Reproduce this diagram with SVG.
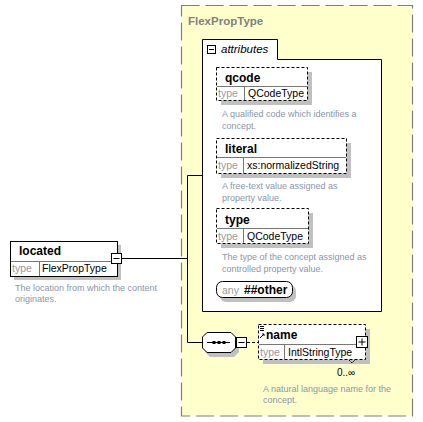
<svg xmlns="http://www.w3.org/2000/svg" width="423" height="422" viewBox="0 0 423 422">
<style>
.t{font-family:"Liberation Sans",Arial,sans-serif}
.h{font-size:12px;font-weight:bold;fill:#000}
.v{font-size:10.5px;fill:#000}
.lbl{font-size:10.5px;fill:#999}
.d{font-size:9px;fill:#8a96a8}
.box{fill:#fff;stroke:#000;stroke-width:1}
.dash{fill:#fff;stroke:#000;stroke-width:1;stroke-dasharray:3,2}
.sh{fill:#c0c0c0}
.div{stroke:#777;stroke-width:1;fill:none}
.ln{stroke:#000;stroke-width:1;fill:none}
</style>
<rect width="423" height="422" fill="#fff"/>
<g id="FlexPropType">
<rect x="181.5" y="5.5" width="231" height="410.5" fill="#ffffcc" stroke="#808080" stroke-width="1.2" stroke-dasharray="18,6"/>
<text class="t" x="188" y="25" font-size="11.5" font-weight="bold" fill="#808080">FlexPropType</text>
</g>
<g id="attributes">
<path d="M202.5,311.5 V39.5 H277.5 V59.5 H381.5 V311.5 Z" fill="#fff" stroke="#000" stroke-width="1"/>
<rect x="207.5" y="45.5" width="8" height="8" class="box"/>
<line x1="209" y1="49.5" x2="214" y2="49.5" class="ln"/>
<text class="t" x="221" y="53" font-size="11.5" font-style="italic">attributes</text>
</g>
<g id="qcode">
<rect x="221" y="72" width="91" height="33" class="sh"/>
<rect x="216.5" y="67.5" width="91" height="33" class="dash"/>
<line x1="217" y1="86.5" x2="307" y2="86.5" class="div"/>
<line x1="244.5" y1="87" x2="244.5" y2="100" class="div"/>
<text class="t h" x="225" y="82">qcode</text>
<text class="t lbl" x="218" y="97">type</text>
<text class="t v" x="248" y="97">QCodeType</text>
<text class="t d" x="222" y="117">A qualified code which identifies a</text>
<text class="t d" x="222" y="129">concept.</text>
</g>
<g id="literal">
<rect x="221" y="143" width="130" height="35" class="sh"/>
<rect x="216.5" y="138.5" width="130" height="35" class="dash"/>
<line x1="217" y1="157.5" x2="346" y2="157.5" class="div"/>
<line x1="243.5" y1="158" x2="243.5" y2="173" class="div"/>
<text class="t h" x="225" y="153">literal</text>
<text class="t lbl" x="218" y="169">type</text>
<text class="t v" x="247" y="169">xs:normalizedString</text>
<text class="t d" x="222" y="189">A free-text value assigned as</text>
<text class="t d" x="222" y="201">property value.</text>
</g>
<g id="type">
<rect x="221" y="213" width="92" height="35" class="sh"/>
<rect x="216.5" y="208.5" width="92" height="35" class="dash"/>
<line x1="217" y1="228.5" x2="308" y2="228.5" class="div"/>
<line x1="243.5" y1="229" x2="243.5" y2="243" class="div"/>
<text class="t h" x="225" y="224">type</text>
<text class="t lbl" x="218" y="240">type</text>
<text class="t v" x="247" y="240">QCodeType</text>
<text class="t d" x="222" y="260">The type of the concept assigned as</text>
<text class="t d" x="222" y="272">controlled property value.</text>
</g>
<g id="any">
<rect x="220" y="285" width="76" height="17" rx="6" class="sh"/>
<rect x="216.5" y="281.5" width="76" height="16" rx="6" class="box"/>
<text class="t lbl" x="222" y="294" font-size="11">any</text>
<text class="t h" x="244" y="294">##other</text>
</g>
<g id="located">
<rect x="14" y="245" width="107" height="35" class="sh"/>
<rect x="10.5" y="241.5" width="107" height="35" class="box"/>
<line x1="11" y1="261.5" x2="117" y2="261.5" class="div"/>
<line x1="39.5" y1="262" x2="39.5" y2="276" class="div"/>
<text class="t h" x="19" y="255">located</text>
<text class="t lbl" x="12" y="272">type</text>
<text class="t v" x="42" y="272">FlexPropType</text>
<rect x="111.5" y="253.5" width="10" height="10" class="box"/>
<line x1="113.5" y1="258.5" x2="119.5" y2="258.5" class="ln"/>
<text class="t d" x="15" y="291">The location from which the content</text>
<text class="t d" x="15" y="302">originates.</text>
</g>
<g id="sequence">
<path d="M210,336 H234 L239,341 V352 L234,357 H210 L205,352 V341 Z" class="sh"/>
<path d="M207,332.5 H231 L235.5,337 V348 L231,352.5 H207 L202.5,348 V337 Z" class="box"/>
<line x1="207" y1="342.5" x2="230" y2="342.5" class="ln"/>
<rect x="212.5" y="341" width="3" height="3" fill="#000"/>
<rect x="217.5" y="341" width="3" height="3" fill="#000"/>
<rect x="222.5" y="341" width="3" height="3" fill="#000"/>
<rect x="236.5" y="337.5" width="10" height="10" class="box"/>
<line x1="238.5" y1="342.5" x2="244.5" y2="342.5" class="ln"/>
</g>
<g id="name">
<rect x="263" y="329" width="107" height="35" class="sh"/>
<rect x="258.5" y="324.5" width="107" height="35" class="dash"/>
<line x1="259" y1="344.5" x2="365" y2="344.5" class="div"/>
<line x1="284.5" y1="345" x2="284.5" y2="359" class="div"/>
<path d="M260,326.5 H264 M260,328.5 H264 M260,330.5 H264" stroke="#000" stroke-width="1"/>
<path d="M260,338 L264,334 M262,334 H264 V336" stroke="#000" stroke-width="1" fill="none"/>
<text class="t h" x="266" y="339">name</text>
<text class="t lbl" x="260" y="356">type</text>
<text class="t v" x="288" y="356">IntlStringType</text>
<rect x="356.5" y="336.5" width="11" height="11" class="box"/>
<line x1="358.5" y1="342" x2="365.5" y2="342" class="ln"/>
<line x1="362" y1="338.5" x2="362" y2="345.5" class="ln"/>
<path d="M349,360 L352,363 L355,360" stroke="#000" stroke-width="1" fill="none" stroke-dasharray="2,1"/>
<text class="t" x="337" y="376" font-size="10">0..∞</text>
<text class="t d" x="263" y="392">A natural language name for the</text>
<text class="t d" x="263" y="403">concept.</text>
</g>
<g id="connectors">
<path d="M122,258.5 H187.5 M187.5,175.5 V342.5 M187.5,175.5 H202 M187.5,342.5 H202" class="ln"/>
<line x1="247" y1="342.5" x2="258" y2="342.5" stroke="#000" stroke-dasharray="3,2"/>
</g>
</svg>
